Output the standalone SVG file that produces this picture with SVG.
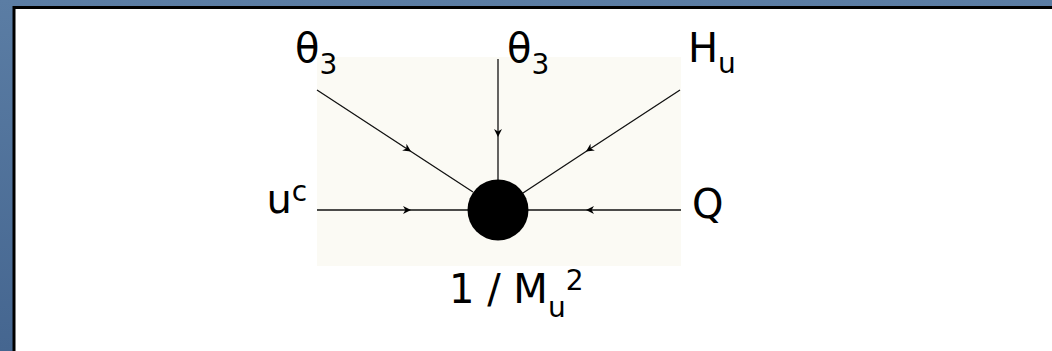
<svg xmlns="http://www.w3.org/2000/svg" width="1052" height="351" viewBox="0 0 1052 351">
  <style>
    .lbl { font-family: "DejaVu Sans", Verdana, sans-serif; font-size: 40px; fill: #000; }
    .sub { font-size: 28px; }
    .conn { stroke: #111; stroke-width: 1.3; fill: none; marker-mid: url(#arr); }
  </style>
  <defs>
    <linearGradient id="bg" x1="0" y1="0" x2="0" y2="1">
      <stop offset="0" stop-color="#5b7da4"/>
      <stop offset="1" stop-color="#456690"/>
    </linearGradient>
    <marker id="arr" viewBox="0 0 10 10" markerUnits="userSpaceOnUse" markerWidth="10" markerHeight="8" refX="10" refY="5" orient="auto">
      <path d="M0,0 L10,5 L0,10 L3,5 z" fill="#000"/>
    </marker>
  </defs>

  <rect x="0" y="0" width="1052" height="351" fill="url(#bg)"/>
  <rect x="14" y="7.5" width="1100" height="400" fill="#ffffff" stroke="#000" stroke-width="3"/>
  <rect x="317" y="57" width="364" height="209" fill="#fbfaf4"/>

  <g id="connectors">
    <path class="conn" d="M317,90 L411,151.5 L473,192"/>
    <path class="conn" d="M498,59 L498,137 L498,182"/>
    <path class="conn" d="M680,90 L586,151.5 L523,193"/>
    <path class="conn" d="M317,210 L411,210 L468,210"/>
    <path class="conn" d="M681,210 L586,210 L528,210"/>
  </g>

  <g id="vertex">
    <circle cx="498" cy="210" r="30.5" fill="#000"/>
    <text class="lbl" x="449" y="303">1 / M<tspan class="sub" dy="14">u</tspan><tspan class="sub" dy="-27">2</tspan></text>
  </g>

  <g id="theta3-left">
    <text class="lbl" x="295" y="62">θ<tspan class="sub" dy="12">3</tspan></text>
  </g>
  <g id="theta3-top">
    <text class="lbl" x="507" y="62">θ<tspan class="sub" dy="12">3</tspan></text>
  </g>
  <g id="Hu">
    <text class="lbl" x="688" y="62">H<tspan class="sub" dy="11">u</tspan></text>
  </g>
  <g id="uc">
    <text class="lbl" x="266.5" y="213">u<tspan class="sub" dy="-12">c</tspan></text>
  </g>
  <g id="Q">
    <text class="lbl" x="692" y="218">Q</text>
  </g>
</svg>
